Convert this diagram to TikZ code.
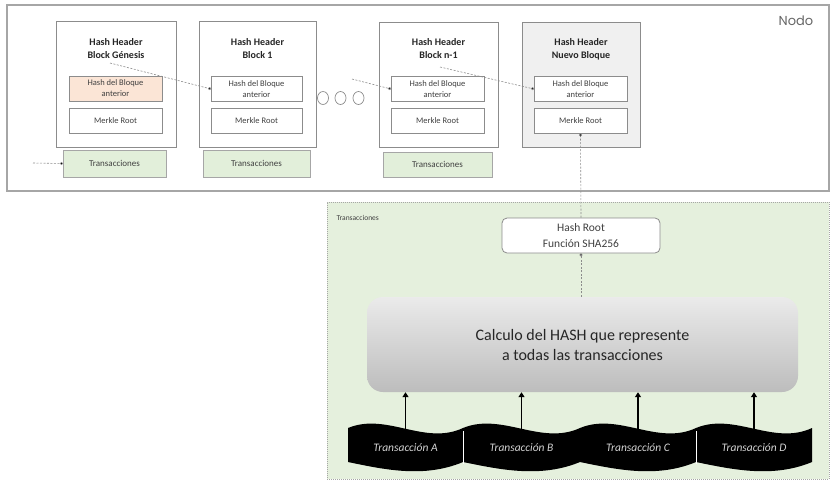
\documentclass[tikz,border=0pt]{standalone}
\usepackage{fontspec}
\setmainfont{Carlito}
\newfontfamily\nodofont{Poppins}
\usetikzlibrary{arrows.meta,calc}
\definecolor{bordgray}{HTML}{8C8C8C}
\definecolor{framegray}{HTML}{A6A6A6}
\definecolor{orangefill}{HTML}{FBE5D6}
\definecolor{greenfill}{HTML}{E2EFDA}
\definecolor{regiongreen}{HTML}{E5F0DD}
\definecolor{newgray}{HTML}{F0F0F0}
\definecolor{wavetext}{HTML}{D4D4D4}
\definecolor{textgray}{HTML}{404040}
\tikzset{
  blockbox/.style={draw=bordgray, line width=0.8pt, fill=white, inner sep=0pt, outer sep=0pt},
  innerbox/.style={draw=bordgray, line width=0.8pt, fill=white, inner sep=0pt, outer sep=0pt,
     minimum height=25pt, align=center, font=\fontsize{8.5}{11}\selectfont, text=textgray},
  transbox/.style={draw=framegray, line width=0.9pt, fill=greenfill, inner sep=0pt, outer sep=0pt,
     minimum height=27pt, font=\fontsize{9}{11}\selectfont, text=textgray},
  titletext/.style={align=center, font=\fontsize{10}{13}\selectfont\bfseries, text=black!85},
  dashconn/.style={draw=bordgray, line width=0.6pt, dash pattern=on 2pt off 1.5pt,
     -{Circle[length=3pt,fill=black]}},
  thickarrow/.style={draw=black, line width=1.8pt, -{Triangle[length=5pt,width=6pt]}},
  ovalbox/.style={draw=bordgray, line width=0.7pt, fill=white, ellipse, minimum width=11pt, minimum height=13pt, inner sep=0pt},
  wavetxt/.style={font=\fontsize{11.5}{13}\selectfont\itshape, text=wavetext},
}
\newcommand{\wavepiece}[2]{%
  \fill[black] (#1,428) .. controls ({#1+#2/3},412) and ({#1+2*#2/3},446) .. ({#1+#2},428)
     -- ({#1+#2},462) .. controls ({#1+2*#2/3},478) and ({#1+#2/3},470) .. (#1,462) -- cycle;}
\usetikzlibrary{shapes.geometric}
\begin{document}
\begin{tikzpicture}[x=1pt,y=-1pt]
\useasboundingbox (0,0) rectangle (832,483);
\fill[white] (0,0) rectangle (832,483);

% Nodo frame
\node[draw=framegray, line width=1.3pt, fill=white, minimum width=822pt, minimum height=186pt, inner sep=0pt] (nodo) at (418,98) {};
\node[font=\nodofont\fontsize{13}{15}\selectfont, text=black!60] (nodolbl) at (796,21) {Nodo};

% Blocks
\node[blockbox, minimum width=120pt, minimum height=126pt] (G) at (116,84) {};
\node[blockbox, minimum width=117pt, minimum height=126pt] (B1) at (257.5,84) {};
\node[blockbox, minimum width=119pt, minimum height=125pt] (Bn) at (438.5,84.5) {};
\node[blockbox, fill=newgray, minimum width=118pt, minimum height=125pt] (N) at (581,84.5) {};

\node[titletext] (tG) at (116,48.5) {Hash Header\\Block Génesis};
\node[titletext] (tB1) at (257.5,48.5) {Hash Header\\Block 1};
\node[titletext] (tBn) at (438.5,49) {Hash Header\\Block n-1};
\node[titletext] (tN) at (581,49) {Hash Header\\Nuevo Bloque};

\node[innerbox, fill=orangefill, minimum width=93pt] (hG) at (115.5,88.5) {Hash del Bloque\\anterior};
\node[innerbox, minimum width=93pt] (mG) at (115.5,120.5) {Merkle Root};
\node[innerbox, minimum width=91pt] (hB1) at (256.5,89) {Hash del Bloque\\anterior};
\node[innerbox, minimum width=91pt] (mB1) at (256.5,120.5) {Merkle Root};
\node[innerbox, minimum width=93pt] (hBn) at (437.5,89) {Hash del Bloque\\anterior};
\node[innerbox, minimum width=93pt] (mBn) at (437.5,121) {Merkle Root};
\node[innerbox, minimum width=93pt] (hN) at (580.5,89) {Hash del Bloque\\anterior};
\node[innerbox, minimum width=93pt] (mN) at (580.5,121) {Merkle Root};

\node[transbox, minimum width=103pt] (trG) at (114.5,163.5) {Transacciones};
\node[transbox, minimum width=107pt] (trB1) at (256.5,163.5) {Transacciones};
\node[transbox, minimum width=109pt, minimum height=25pt] (trBn) at (437.5,164.5) {Transacciones};

% ellipsis circles
\node[ovalbox] (o1) at (323,98) {};
\node[ovalbox] (o2) at (340.5,98) {};
\node[ovalbox] (o3) at (358.5,98) {};

% chain connectors
\coordinate (sG) at (110,63);
\coordinate (sO) at (352,79);
\coordinate (sBn) at (440,67);
\coordinate (inG) at (33,163);
\draw[dashconn] (sG) -- (hB1.west);
\draw[dashconn] (sO) -- (hBn.west);
\draw[dashconn] (sBn) -- (hN.west);
\draw[dashconn] (inG) -- (trG.west);

% Transacciones region
\node[draw=framegray, dash pattern=on 1pt off 1pt, line width=0.6pt, fill=regiongreen,
      minimum width=502pt, minimum height=277pt, inner sep=0pt] (region) at (578,340.5) {};
\node[font=\fontsize{7.5}{9}\selectfont, text=black!75, anchor=west] (reglbl) at (333,218) {Transacciones};

% Hash Root box
\node[draw=bordgray, line width=0.8pt, fill=white, rounded corners=5pt, minimum width=158pt, minimum height=35pt,
      inner sep=0pt, align=center, font=\fontsize{11.5}{16}\selectfont, text=textgray] (hroot) at (581,235.5)
      {Hash Root\\Función SHA256};

% Calc box
\node[rounded corners=16pt, top color=black!8, bottom color=black!26, minimum width=431pt, minimum height=95pt,
      inner sep=0pt, align=center, font=\fontsize{16}{20}\selectfont, text=black!85] (calc) at (582.5,344.5)
      {Calculo del HASH que represente\\a todas las transacciones};

\draw[dashconn] (hroot.north) -- (mN.south);
\draw[dashconn] (calc.north -| hroot.south) -- (hroot.south);

% waves
\wavepiece{348}{115}
\wavepiece{463}{117}
\wavepiece{580}{116}
\wavepiece{696}{116}
\draw[white, line width=0.7pt] (463,431) -- (463,464);
\draw[white, line width=0.7pt] (696,431) -- (696,464);

\node[wavetxt] (wA) at (405.5,448) {Transacción A};
\node[wavetxt] (wB) at (521.5,448) {Transacción B};
\node[wavetxt] (wC) at (638,448) {Transacción C};
\node[wavetxt] (wD) at (754,448) {Transacción D};

\coordinate (cA) at (405.5,431);
\coordinate (cB) at (521.5,431);
\coordinate (cC) at (638,431);
\coordinate (cD) at (754,431);
\draw[thickarrow] (cA) -- (cA |- calc.south);
\draw[thickarrow] (cB) -- (cB |- calc.south);
\draw[thickarrow] (cC) -- (cC |- calc.south);
\draw[thickarrow] (cD) -- (cD |- calc.south);
\end{tikzpicture}
\end{document}
